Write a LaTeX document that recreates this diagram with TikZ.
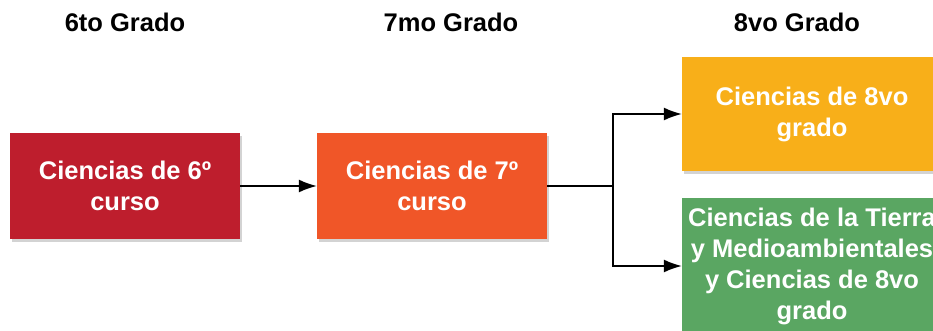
\documentclass[tikz,border=0pt]{standalone}
\usepackage{fontspec}
\setmainfont{Liberation Sans}
\usepackage{tikz}
\usetikzlibrary{calc}
\usetikzlibrary{shadows}
\usetikzlibrary{arrows.meta}
\definecolor{rojo}{RGB}{190,30,45}
\definecolor{naranja}{RGB}{240,86,40}
\definecolor{amarillo}{RGB}{248,175,25}
\definecolor{verde}{RGB}{90,166,98}

\begin{document}
\begin{tikzpicture}[x=1pt, y=1pt,
    grado/.style={font=\fontsize{25.5}{31}\selectfont\bfseries, text=black},
    curso/.style={font=\fontsize{25.5}{31}\selectfont\bfseries, text=white,
      align=center, inner sep=0pt, minimum width=230, minimum height=106,
      drop shadow={shadow xshift=2pt, shadow yshift=-3pt, opacity=0.35}},
    flecha/.style={line width=1.6pt, -{Latex[length=18pt, width=13pt]}}]
  \useasboundingbox (0,0) rectangle (933,330);
  \clip (0,0) rectangle (933,330);

  % titulos
  \node[grado] (t6) at (125,308) {6to Grado};
  \node[grado] (t7) at (451,308) {7mo Grado};
  \node[grado] (t8) at (797,308) {8vo Grado};

  % cursos
  \node[curso, fill=rojo] (c6) at (125,144) {Ciencias de 6º\\curso};
  \node[curso, fill=naranja] (c7) at (432,144) {Ciencias de 7º\\curso};
  \node[curso, fill=amarillo, minimum width=260, minimum height=114]
    (c8) at (812,216) {Ciencias de 8vo\\grado};
  \node[curso, fill=verde, minimum width=260, minimum height=136]
    (c8t) at (812,64) {Ciencias de la Tierra\\y Medioambientales\\y Ciencias de 8vo\\grado};

  \coordinate (rama) at (613,144);
  \draw[flecha] (c6) -- (c7);
  \draw[line width=1.6pt] (c7) -- (rama);
  \draw[flecha] (rama) |- (c8.west);
  \draw[flecha] (rama) |- (c8t.west);
\end{tikzpicture}
\end{document}
